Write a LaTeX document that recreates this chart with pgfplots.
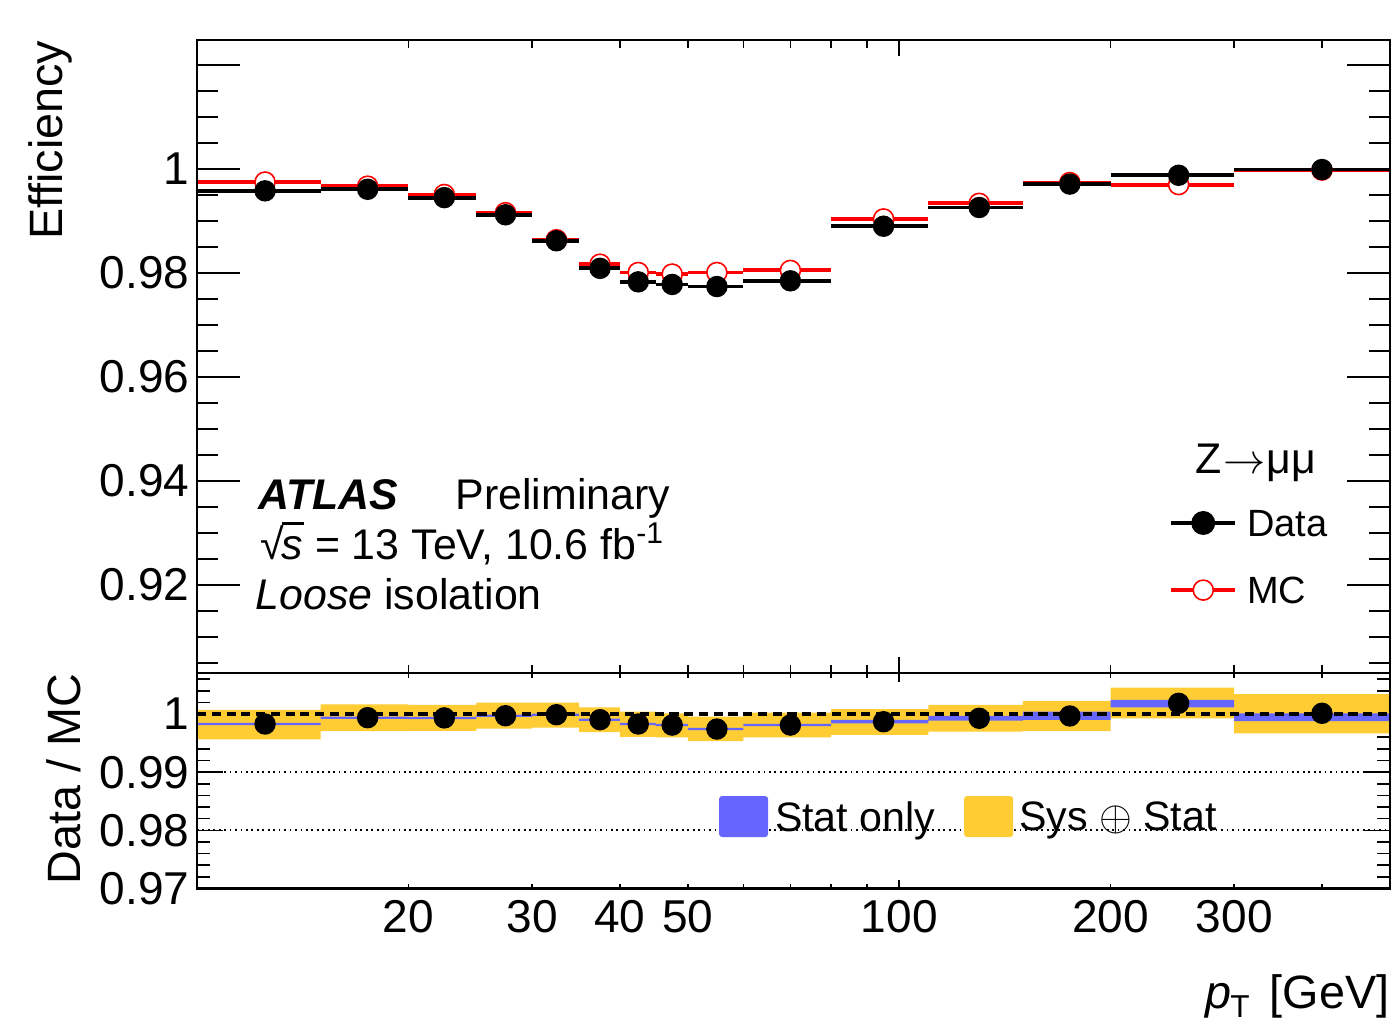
\documentclass[border=0pt]{standalone}
\usepackage{pgfplots}
\pgfplotsset{compat=1.18}
\usepackage{fontspec}
\setmainfont{Liberation Sans}
\definecolor{statblue}{RGB}{102,102,255}
\definecolor{sysyellow}{RGB}{255,204,51}
\definecolor{mcred}{RGB}{255,0,0}
\newcommand{\tickfont}{\fontsize{13.1}{15}\selectfont}
\newcommand{\labfont}{\fontsize{13.3}{15}\selectfont}
\newcommand{\txtfont}{\fontsize{12.2}{14}\selectfont}
\newcommand{\legfont}{\fontsize{10.8}{13}\selectfont}
\newcommand{\slegfont}{\fontsize{11.7}{14}\selectfont}
\pgfplotsset{
  every axis/.append style={
    scale only axis, width=11.93cm, xmode=log, xmin=10, xmax=500,
    axis line style={line width=0.6pt},
    tick style={line width=0.45pt, black},
    tick align=inside,
    tick label style={font=\tickfont},
    /pgf/number format/assume math mode=true,
    yticklabel style={inner xsep=0pt, xshift=-0.07cm},
    xticklabel style={inner ysep=0pt, yshift=-0.11cm},
    legend style={draw=none, fill=none, inner sep=0pt, outer sep=0pt,
      nodes={inner sep=0pt, text depth=0pt}, cells={anchor=west}},
  },
}
\begin{document}
\begin{tikzpicture}
\useasboundingbox (0,0) rectangle (14cm,10.24cm);
% ---------------- top panel: data + y ticks
\begin{axis}[height=6.33cm, at={(1.97cm,3.51cm)}, anchor=south west,
  ymin=0.90308, ymax=1.02481,
  xtick=\empty,
  ytick={0.92,0.94,0.96,0.98,1,1.02}, yticklabels={0.92,0.94,0.96,0.98,1,},
  minor ytick={0.905,0.91,0.915,0.925,0.93,0.935,0.945,0.95,0.955,0.965,0.97,0.975,0.985,0.99,0.995,1.005,1.01,1.015},
  major tick length=0.43cm, minor tick length=0.21cm,
  legend image code/.code={\draw[mark repeat=2,mark phase=2,#1] plot coordinates {(0cm,0cm)(0.32cm,0cm)(0.64cm,0cm)};},
  legend style={at={(0.815,0.237)}, anchor=west, font=\legfont}]
\addplot[mcred, line width=1.1pt, unbounded coords=jump, forget plot] coordinates {
(10,0.9975)(15,0.9975)(15,nan)(15,0.9967)(20,0.9967)(20,nan)(20,0.9951)(25,0.9951)(25,nan)
(25,0.9916)(30,0.9916)(30,nan)(30,0.9864)(35,0.9864)(35,nan)(35,0.9817)(40,0.9817)(40,nan)
(40,0.9801)(45,0.9801)(45,nan)(45,0.9798)(50,0.9798)(50,nan)(50,0.9801)(60,0.9801)(60,nan)
(60,0.9805)(80,0.9805)(80,nan)(80,0.9904)(110,0.9904)(110,nan)(110,0.9934)(150,0.9934)(150,nan)
(150,0.9974)(200,0.9974)(200,nan)(200,0.9970)(300,0.9970)(300,nan)(300,0.9998)(500,0.9998)};
\addplot[mcred, only marks, mark=*, mark size=2.85pt, mark options={fill=white, draw=mcred, line width=0.45pt}, forget plot] coordinates {
(12.5,0.9975)(17.5,0.9967)(22.5,0.9951)(27.5,0.9916)(32.5,0.9864)(37.5,0.9817)(42.5,0.9801)(47.5,0.9798)
(55,0.9801)(70,0.9805)(95,0.9904)(130,0.9934)(175,0.9974)(250,0.9970)(400,0.9998)};
\addplot[black, line width=1.1pt, unbounded coords=jump, forget plot] coordinates {
(10,0.9958)(15,0.9958)(15,nan)(15,0.9961)(20,0.9961)(20,nan)(20,0.9945)(25,0.9945)(25,nan)
(25,0.9912)(30,0.9912)(30,nan)(30,0.9862)(35,0.9862)(35,nan)(35,0.9809)(40,0.9809)(40,nan)
(40,0.9783)(45,0.9783)(45,nan)(45,0.9778)(50,0.9778)(50,nan)(50,0.9774)(60,0.9774)(60,nan)
(60,0.9785)(80,0.9785)(80,nan)(80,0.9890)(110,0.9890)(110,nan)(110,0.9926)(150,0.9926)(150,nan)
(150,0.9971)(200,0.9971)(200,nan)(200,0.9988)(300,0.9988)(300,nan)(300,0.9999)(500,0.9999)};
\addplot[black, only marks, mark=*, mark size=2.85pt, forget plot] coordinates {
(12.5,0.9958)(17.5,0.9961)(22.5,0.9945)(27.5,0.9912)(32.5,0.9862)(37.5,0.9809)(42.5,0.9783)(47.5,0.9778)
(55,0.9774)(70,0.9785)(95,0.9890)(130,0.9926)(175,0.9971)(250,0.9988)(400,0.9999)};
\addlegendimage{black, line width=1.1pt, mark=*, mark size=2.85pt, mark options={solid}}
\addlegendentry{\hspace*{0.10cm}Data}
\end{axis}
% ---------------- top panel: x ticks overlay
\begin{axis}[height=6.33cm, at={(1.97cm,3.51cm)}, anchor=south west,
  ymin=0.90308, ymax=1.02481, ytick=\empty,
  xtick={100}, xticklabels={}, minor xtick={20,30,40,50,60,70,80,90,200,300,400},
  major tick length=0.16cm, minor tick length=0.08cm,
  legend image code/.code={\draw[mark repeat=2,mark phase=2,#1] plot coordinates {(0cm,0cm)(0.32cm,0cm)(0.64cm,0cm)};},
  legend style={at={(0.815,0.131)}, anchor=west, font=\legfont}]
\addlegendimage{mcred, line width=1.1pt, mark=*, mark size=2.85pt, mark options={fill=white, draw=mcred, line width=0.45pt}}
\addlegendentry{\hspace*{0.10cm}MC}
\end{axis}
% ---------------- bottom panel: ratio + y ticks
\begin{axis}[height=2.155cm, at={(1.97cm,1.355cm)}, anchor=south west,
  ymin=0.97, ymax=1.00705,
  xtick=\empty,
  ytick={0.97,0.98,0.99,1}, yticklabels={0.97,0.98,0.99,1},
  minor ytick={0.972,0.974,0.976,0.978,0.982,0.984,0.986,0.988,0.992,0.994,0.996,0.998,1.002,1.004,1.006},
  major tick length=0.26cm, minor tick length=0.13cm,
  legend image code/.code={\fill[#1, rounded corners=0.03cm] (0cm,-0.205cm) rectangle (0.49cm,0.205cm);},
  legend style={at={(0.4376,0.334)}, anchor=west, font=\slegfont}]
% Sys (+) Stat band
\addplot[fill=sysyellow, draw=none, unbounded coords=jump, forget plot] coordinates {
(10,0.99564)(15,0.99564)(15,1.00069)(10,1.00069)(10,nan)
(15,0.99707)(20,0.99707)(20,1.00167)(15,1.00167)(15,nan)
(20,0.99712)(25,0.99712)(25,1.00155)(20,1.00155)(20,nan)
(25,0.99747)(30,0.99747)(30,1.00195)(25,1.00195)(25,nan)
(30,0.99764)(35,0.99764)(35,1.00195)(30,1.00195)(30,nan)
(35,0.99690)(40,0.99690)(40,1.00116)(35,1.00116)(35,nan)
(40,0.99609)(45,0.99609)(45,1.00040)(40,1.00040)(40,nan)
(45,0.99598)(50,0.99598)(50,1.00012)(45,1.00012)(45,nan)
(50,0.99534)(60,0.99534)(60,0.99953)(50,0.99953)(50,nan)
(60,0.99598)(80,0.99598)(80,1.00022)(60,1.00022)(60,nan)
(80,0.99643)(110,0.99643)(110,1.00086)(80,1.00086)(80,nan)
(110,0.99695)(150,0.99695)(150,1.00155)(110,1.00155)(110,nan)
(150,0.99707)(200,0.99707)(200,1.00224)(150,1.00224)(150,nan)
(200,0.99926)(300,0.99926)(300,1.00453)(200,1.00453)(200,nan)
(300,0.99667)(500,0.99667)(500,1.00340)(300,1.00340)};
% Stat only band
\addplot[fill=statblue, draw=none, unbounded coords=jump, forget plot] coordinates {
(10,0.99808)(15,0.99808)(15,0.99848)(10,0.99848)(10,nan)
(15,0.99916)(20,0.99916)(20,0.99956)(15,0.99956)(15,nan)
(20,0.99911)(25,0.99911)(25,0.99951)(20,0.99951)(20,nan)
(25,0.99951)(30,0.99951)(30,0.99991)(25,0.99991)(25,nan)
(30,0.99968)(35,0.99968)(35,1.00008)(30,1.00008)(30,nan)
(35,0.99882)(40,0.99882)(40,0.99922)(35,0.99922)(35,nan)
(40,0.99808)(45,0.99808)(45,0.99848)(40,0.99848)(40,nan)
(45,0.99790)(50,0.99790)(50,0.99830)(45,0.99830)(45,nan)
(50,0.99721)(60,0.99721)(60,0.99761)(50,0.99761)(50,nan)
(60,0.99790)(80,0.99790)(80,0.99830)(60,0.99830)(60,nan)
(80,0.99837)(110,0.99837)(110,0.99897)(80,0.99897)(80,nan)
(110,0.99886)(150,0.99886)(150,0.99966)(110,0.99966)(110,nan)
(150,0.99897)(200,0.99897)(200,1.00040)(150,1.00040)(150,nan)
(200,1.00116)(300,1.00116)(300,1.00241)(200,1.00241)(200,nan)
(300,0.99879)(500,0.99879)(500,1.00012)(300,1.00012)};
\addplot[black, line width=0.5pt, dash pattern=on 0.5pt off 1.05pt, forget plot] coordinates {(10,0.99)(500,0.99)};
\addplot[black, line width=0.5pt, dash pattern=on 0.5pt off 1.05pt, forget plot] coordinates {(10,0.98)(500,0.98)};
\addplot[black, line width=1.0pt, dash pattern=on 2.6pt off 1.6pt, forget plot] coordinates {(10,1)(500,1)};
\addplot[black, only marks, mark=*, mark size=2.85pt, forget plot] coordinates {
(12.5,0.99828)(17.5,0.99937)(22.5,0.99933)(27.5,0.99971)(32.5,0.99988)(37.5,0.99902)(42.5,0.99828)(47.5,0.99810)
(55,0.99741)(70,0.99810)(95,0.99867)(130,0.99926)(175,0.99966)(250,1.00184)(400,1.00012)};
\addlegendimage{fill=statblue, draw=none}
\addlegendentry{\hspace*{0.07cm}Stat only}
\end{axis}
% ---------------- bottom panel: labelled x ticks overlay
\begin{axis}[height=2.155cm, at={(1.97cm,1.355cm)}, anchor=south west,
  ymin=0.97, ymax=1.00705, ytick=\empty,
  xtick={20,30,40,50,100,200,300}, xticklabels={20,30,40,50,100,200,300},
  minor xtick={60,70,80,90,400},
  major tick length=0.045cm, minor tick length=0.045cm,
  legend image code/.code={\fill[#1, rounded corners=0.03cm] (0cm,-0.205cm) rectangle (0.49cm,0.205cm);},
  legend style={at={(0.643,0.334)}, anchor=west, font=\slegfont}]
\addlegendimage{fill=sysyellow, draw=none}
\addlegendentry{\hspace*{0.06cm}Sys $\oplus$ Stat}
\end{axis}
% ---------------- bottom panel: long tick at 100
\begin{axis}[height=2.155cm, at={(1.97cm,1.355cm)}, anchor=south west,
  ymin=0.97, ymax=1.00705, ytick=\empty,
  xtick={100}, xticklabels={}, major tick length=0.09cm]
\end{axis}
% ---------------- texts
\node[anchor=base west, font=\txtfont, inner sep=0pt] at (2.58cm,5.15cm) {\textbf{\textit{ATLAS}}};
\node[anchor=base west, font=\txtfont, inner sep=0pt] at (4.55cm,5.15cm) {Preliminary};
\node[anchor=base west, font=\txtfont, inner sep=0pt] at (2.60cm,4.65cm) {√\kern-0.06em\rlap{\rule[0.80em]{0.52em}{0.055em}}\textit{s} = 13 TeV, 10.6 fb\textsuperscript{-1}};
\node[anchor=base west, font=\txtfont, inner sep=0pt] at (2.55cm,4.15cm) {\textit{Loose} isolation};
\node[anchor=base west, font=\txtfont, inner sep=0pt] at (11.95cm,5.51cm) {Z\kern0.03em$\rightarrow$\kern0.03emμμ};
\node[rotate=90, anchor=base east, font=\labfont, inner sep=0pt] at (0.62cm,9.84cm) {Efficiency};
\node[rotate=90, anchor=base east, font=\labfont, inner sep=0pt] at (0.80cm,3.51cm) {Data / MC};
\node[anchor=base east, font=\labfont, inner sep=0pt] at (13.90cm,0.16cm) {\textit{p}\kern-0.02em\raisebox{-0.2em}{\fontsize{9}{10}\selectfont T}\kern0.15em\ [GeV]};
\end{tikzpicture}
\end{document}
